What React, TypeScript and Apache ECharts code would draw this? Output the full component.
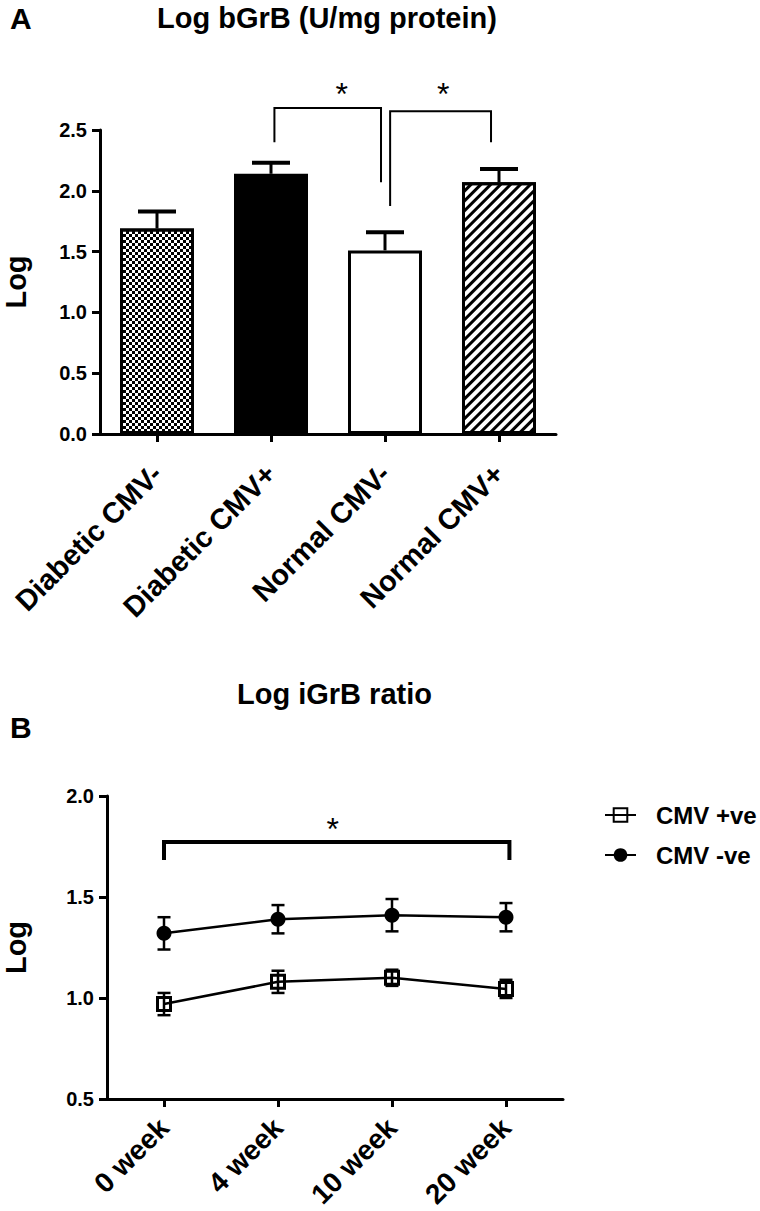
import React, { useEffect, useRef } from "react";
import * as echarts from "echarts";

// ---------- Data ----------
const barCategories = ["Diabetic CMV-", "Diabetic CMV+", "Normal CMV-", "Normal CMV+"];
const barMeans = [1.69, 2.14, 1.51, 2.07];
const barErrors = [0.14, 0.09, 0.15, 0.11];
const barYTicks = [0, 0.5, 1.0, 1.5, 2.0, 2.5];

// significance brackets for panel A: [xLeft, xRight, yTop, yLeftEnd, yRightEnd]
const bracketsA = [
  [1.03, 1.965, 2.68, 2.4, 2.07],
  [2.045, 2.93, 2.655, 1.875, 2.4],
];
// stars for panel A: [x, y]
const starsA = [
  [1.62, 2.85],
  [2.51, 2.85],
];

const weeks = ["0 week", "4 week", "10 week", "20 week"];
const cmvPos = [0.97, 1.08, 1.1, 1.045];
const cmvPosErr = [0.055, 0.055, 0.04, 0.045];
const cmvNeg = [1.32, 1.39, 1.41, 1.4];
const cmvNegErr = [0.08, 0.07, 0.08, 0.07];
const lineYTicks = [0.5, 1.0, 1.5, 2.0];

const bracketsB = [[0, 3.03, 1.772, 1.683, 1.683]];
const starsB = [[1.48, 1.871]];

const FONT = "'Liberation Sans', Arial, Helvetica, sans-serif";

// fractional category position -> pixel, via the axis' own scale and band width
function catCoord(api: any, x: number, y: number) {
  const base = Math.round(x);
  const p = api.coord([base, y]);
  const band = api.size([1, 0])[0];
  return [p[0] + (x - base) * band, p[1]];
}

export default function App() {
  const ref = useRef<HTMLDivElement>(null);

  useEffect(() => {
    if (!ref.current) return;
    const chart = echarts.init(ref.current, null, { renderer: "svg" });

    const axisCommon = {
      axisLine: { show: true, lineStyle: { color: "#000", width: 3 } },
      axisTick: { show: true, length: 8, lineStyle: { color: "#000", width: 3 } },
      splitLine: { show: false },
    };

    const barFills = [
      {
        color: "#fff",
        decal: {
          symbol: "rect",
          symbolSize: 1,
          color: "#000",
          backgroundColor: "#fff",
          dashArrayX: [
            [3, 3],
            [0, 3, 3, 0],
          ],
          dashArrayY: [3, 0],
        },
      },
      { color: "#000" },
      { color: "#fff" },
      {
        color: "#fff",
        decal: {
          symbol: "rect",
          symbolSize: 1,
          color: "#000",
          backgroundColor: "#fff",
          dashArrayX: [1, 0],
          dashArrayY: [3, 3.5],
          rotation: -Math.PI / 4,
        },
      },
    ];

    const bracketRender = (brackets: number[][], stars: number[][], lw: number) =>
      (params: any, api: any) => {
        const b = brackets[params.dataIndex];
        const pTL = catCoord(api, b[0], b[2]);
        const pTR = catCoord(api, b[1], b[2]);
        const pBL = catCoord(api, b[0], b[3]);
        const pBR = catCoord(api, b[1], b[4]);
        const s = stars[params.dataIndex];
        const ps = catCoord(api, s[0], s[1]);
        return {
          type: "group",
          children: [
            {
              type: "polyline",
              shape: { points: [pBL, pTL, pTR, pBR] },
              style: { stroke: "#000", lineWidth: lw, fill: "none" },
            },
            {
              type: "text",
              x: ps[0],
              y: ps[1] + 7,
              style: {
                text: "*",
                fontSize: 32,
                fontFamily: FONT,
                fill: "#000",
                align: "center",
                verticalAlign: "middle",
              },
            },
          ],
        };
      };

    const errRender = (means: number[], errs: number[], capHalf: number, lw: number, capW: number, both: boolean) =>
      (params: any, api: any) => {
        const i = params.dataIndex;
        const pt = api.coord([i, means[i] + errs[i]]);
        const pb = api.coord([i, both ? means[i] - errs[i] : means[i]]);
        const children: any[] = [
          { type: "line", shape: { x1: pt[0], y1: pt[1], x2: pb[0], y2: pb[1] }, style: { stroke: "#000", lineWidth: lw } },
          { type: "line", shape: { x1: pt[0] - capHalf, y1: pt[1], x2: pt[0] + capHalf, y2: pt[1] }, style: { stroke: "#000", lineWidth: capW } },
        ];
        if (both) {
          children.push({ type: "line", shape: { x1: pb[0] - capHalf, y1: pb[1], x2: pb[0] + capHalf, y2: pb[1] }, style: { stroke: "#000", lineWidth: capW } });
        }
        return { type: "group", children };
      };

    const titleStyle = (size: number) => ({ fontSize: size, fontWeight: "bold", color: "#000", fontFamily: FONT });

    const option: any = {
      animation: false,
      backgroundColor: "#fff",
      textStyle: { fontFamily: FONT },
      title: [
        { text: "A", left: 10, top: 3, padding: 0, textStyle: titleStyle(30) },
        { text: "Log bGrB (U/mg protein)", left: 157, top: 3, padding: 0, textStyle: titleStyle(29) },
        { text: "B", left: 10, top: 712, padding: 0, textStyle: titleStyle(30) },
        { text: "Log iGrB ratio", left: 237, top: 679, padding: 0, textStyle: titleStyle(29) },
      ],
      legend: {
        data: ["CMV +ve", "CMV -ve"],
        orient: "vertical",
        left: 604,
        top: 803,
        padding: 0,
        itemWidth: 31,
        itemHeight: 17,
        itemGap: 16,
        textStyle: { fontSize: 24, fontWeight: "bold", color: "#000", fontFamily: FONT, padding: [0, 0, 0, 15] },
      },
      grid: [
        { left: 100, top: 130, width: 456, height: 304, containLabel: false, outerBoundsMode: "none" },
        { left: 107, top: 796, width: 456, height: 303, containLabel: false, outerBoundsMode: "none" },
      ],
      xAxis: [
        {
          type: "category",
          gridIndex: 0,
          data: barCategories,
          ...axisCommon,
          axisTick: { ...axisCommon.axisTick, alignWithLabel: true },
          axisLabel: { rotate: 45, fontSize: 29, fontWeight: "bold", color: "#000", margin: 35, fontFamily: FONT, interval: 0 },
        },
        {
          type: "category",
          gridIndex: 1,
          data: weeks,
          ...axisCommon,
          axisTick: { ...axisCommon.axisTick, alignWithLabel: true },
          axisLabel: { rotate: 45, fontSize: 28, fontWeight: "bold", color: "#000", margin: 24, fontFamily: FONT, interval: 0, lineHeight: 28 },
        },
      ],
      yAxis: [
        {
          type: "value",
          gridIndex: 0,
          min: barYTicks[0],
          max: barYTicks[barYTicks.length - 1],
          interval: 0.5,
          ...axisCommon,
          axisLabel: { fontSize: 20, fontWeight: "bold", color: "#000", margin: 13, fontFamily: FONT, formatter: (v: number) => v.toFixed(1) },
          name: "Log",
          nameLocation: "middle",
          nameGap: 71,
          nameTextStyle: { fontSize: 29, lineHeight: 26, fontWeight: "bold", color: "#000", fontFamily: FONT },
        },
        {
          type: "value",
          gridIndex: 1,
          min: lineYTicks[0],
          max: lineYTicks[lineYTicks.length - 1],
          interval: 0.5,
          ...axisCommon,
          axisLabel: { fontSize: 20, fontWeight: "bold", color: "#000", margin: 13, fontFamily: FONT, formatter: (v: number) => v.toFixed(1) },
          name: "Log",
          nameLocation: "middle",
          nameGap: 78,
          nameTextStyle: { fontSize: 29, lineHeight: 26, fontWeight: "bold", color: "#000", fontFamily: FONT },
        },
      ],
      series: [
        {
          type: "custom",
          name: "errA",
          xAxisIndex: 0,
          yAxisIndex: 0,
          z: 1,
          data: barMeans.map((m, i) => [i, m + barErrors[i]]),
          renderItem: errRender(barMeans, barErrors, 19, 3, 4, false),
        },
        {
          type: "bar",
          name: "bGrB",
          xAxisIndex: 0,
          yAxisIndex: 0,
          barWidth: 74,
          z: 2,
          data: barMeans.map((m, i) => ({
            value: m,
            itemStyle: { ...barFills[i], borderColor: "#000", borderWidth: 3 },
          })),
        },
        {
          type: "custom",
          name: "sigA",
          xAxisIndex: 0,
          yAxisIndex: 0,
          clip: false,
          z: 3,
          data: bracketsA.map((b) => [Math.round(b[0]), b[2]]),
          renderItem: bracketRender(bracketsA, starsA, 2),
        },
        {
          type: "custom",
          name: "errPos",
          xAxisIndex: 1,
          yAxisIndex: 1,
          z: 4,
          data: cmvPos.map((m, i) => [i, m]),
          renderItem: errRender(cmvPos, cmvPosErr, 6.5, 2.5, 2.5, true),
        },
        {
          type: "custom",
          name: "errNeg",
          xAxisIndex: 1,
          yAxisIndex: 1,
          z: 4,
          data: cmvNeg.map((m, i) => [i, m]),
          renderItem: errRender(cmvNeg, cmvNegErr, 6.5, 2.5, 2.5, true),
        },
        {
          type: "line",
          name: "CMV +ve",
          xAxisIndex: 1,
          yAxisIndex: 1,
          z: 3,
          data: cmvPos,
          symbol: "rect",
          symbolSize: 13,
          itemStyle: { color: "rgba(255,255,255,0)", borderColor: "#000", borderWidth: 3 },
          lineStyle: { color: "#000", width: 2.5 },
        },
        {
          type: "line",
          name: "CMV -ve",
          xAxisIndex: 1,
          yAxisIndex: 1,
          z: 3,
          data: cmvNeg,
          symbol: "circle",
          symbolSize: 15,
          itemStyle: { color: "#000", borderColor: "#000", borderWidth: 0 },
          lineStyle: { color: "#000", width: 2.5 },
        },
        {
          type: "custom",
          name: "sigB",
          xAxisIndex: 1,
          yAxisIndex: 1,
          clip: false,
          z: 5,
          data: bracketsB.map((b) => [Math.round(b[0]), b[2]]),
          renderItem: bracketRender(bracketsB, starsB, 4),
        },
      ],
    };

    chart.setOption(option);
    return () => chart.dispose();
  }, []);

  return (
    <div
      ref={ref}
      style={{ position: "absolute", left: 0, top: 0, width: 760, height: 1211 }}
    />
  );
}
